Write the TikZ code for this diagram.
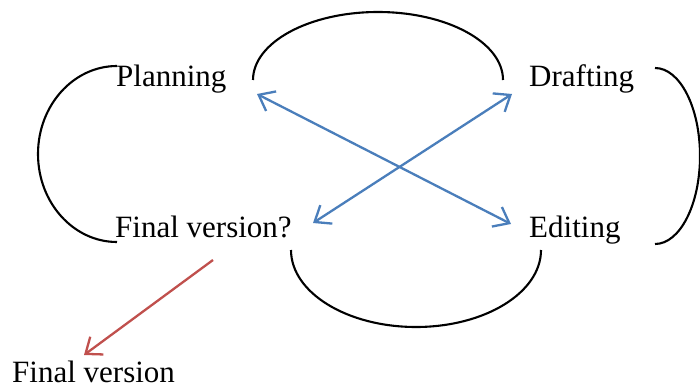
\documentclass[tikz,border=0pt]{standalone}
\usepackage{fontspec}
\setmainfont{Liberation Serif}
\usetikzlibrary{arrows.meta}
\definecolor{arrblue}{HTML}{4A7EBB}
\definecolor{arrred}{HTML}{C0504D}
\begin{document}
\begin{tikzpicture}[x=1pt,y=1pt,
  lbl/.style={inner sep=0pt, anchor=base west, font=\fontsize{31}{36}\selectfont},
  loopline/.style={line width=2.1pt, black},
  crossarrow/.style={line width=2.3pt, arrblue, {Straight Barb[length=14pt,width=22pt]}-{Straight Barb[length=14pt,width=22pt]}},
  finalarrow/.style={line width=2.3pt, arrred, -{Straight Barb[length=14pt,width=22pt]}}]
\useasboundingbox (0,0) rectangle (700,389);
\node[lbl] (plan) at (116,302) {Planning};
\node[lbl] (draft) at (529,302) {Drafting};
\node[lbl] (finq) at (115,152) {Final version?};
\node[lbl] (edit) at (529,152) {Editing};
\node[lbl] (fin) at (12,7) {Final version};
% loops
\draw[loopline] (253,309) arc[start angle=180,end angle=0,x radius=125pt,y radius=68pt];
\draw[loopline] (117,323) arc[start angle=90,end angle=270,x radius=79pt,y radius=88pt];
\draw[loopline] (655,321) arc[start angle=90,end angle=-90,x radius=45pt,y radius=88pt];
\draw[loopline] (291,139) arc[start angle=180,end angle=360,x radius=125pt,y radius=77pt];
% arrow ends
\coordinate (pe1) at (257,295);
\coordinate (pe2) at (511,165);
\coordinate (df1) at (512,295);
\coordinate (df2) at (313,166);
\coordinate (r1) at (213,129);
\coordinate (r2) at (84,34);
\draw[crossarrow] (pe1) -- (pe2);
\draw[crossarrow] (df2) -- (df1);
\draw[finalarrow] (r1) -- (r2);
\end{tikzpicture}
\end{document}
